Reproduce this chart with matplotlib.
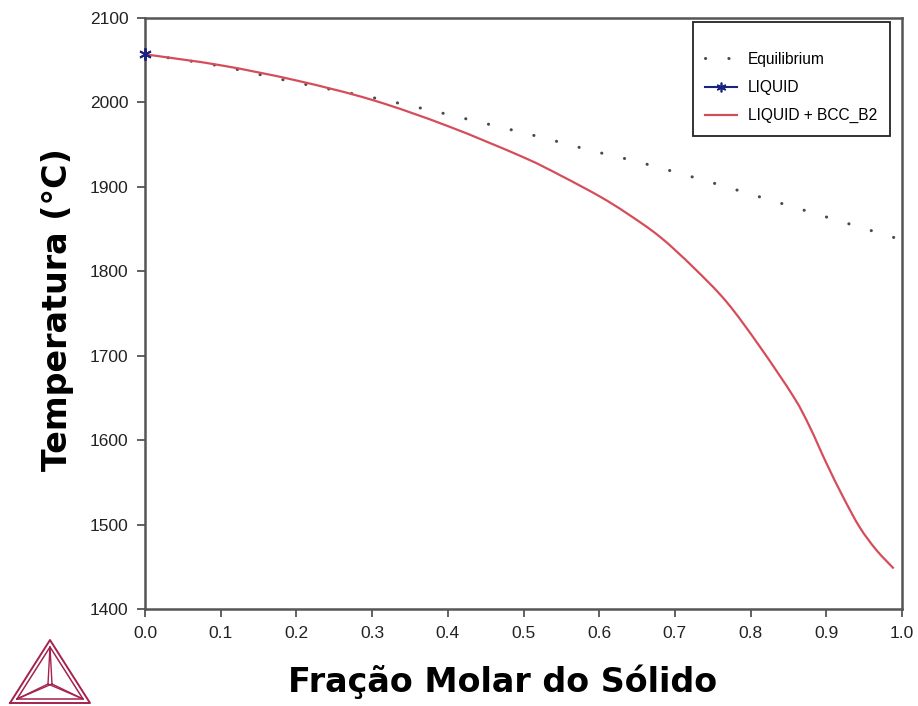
import numpy as np
import matplotlib
matplotlib.use("Agg")
import matplotlib.pyplot as plt
from matplotlib.lines import Line2D
from matplotlib.path import Path
from matplotlib.patches import PathPatch

# Solidification data (mole fraction of solid vs temperature)
eq_frac = [0.0, 0.1, 0.192, 0.341, 0.5, 0.594, 0.658, 0.768, 0.982, 0.99]
eq_temp = [2057, 2043, 2025, 1998, 1964, 1942, 1928, 1900, 1842, 1840]

liq_frac = [0.0]
liq_temp = [2057]

bcc_frac = [0.0, 0.1, 0.2, 0.3, 0.4, 0.5, 0.55, 0.6, 0.636, 0.68, 0.724,
            0.768, 0.812, 0.857, 0.878, 0.9, 0.922, 0.944, 0.966, 0.989]
bcc_temp = [2057, 2044, 2026, 2003, 1972, 1935, 1913, 1889, 1869, 1841, 1805,
            1764, 1711, 1651, 1616, 1573, 1533, 1497, 1470, 1448]

x_ticks = [0.0, 0.1, 0.2, 0.3, 0.4, 0.5, 0.6, 0.7, 0.8, 0.9, 1.0]
y_ticks = [1400, 1500, 1600, 1700, 1800, 1900, 2000, 2100]

EQ_COLOR = "#4a4a4a"
BCC_COLOR = "#d64d5a"
LIQ_COLOR = "#1a237e"
EQ_STYLE = (0, (0.05, 7.6))


def smooth_path(xs, ys):
    """Catmull-Rom spline through the points, as cubic Bezier segments."""
    pts = np.column_stack([xs, ys]).astype(float)
    verts = [pts[0]]
    codes = [Path.MOVETO]
    n = len(pts)
    for i in range(n - 1):
        p0 = pts[i - 1] if i > 0 else pts[i]
        p1, p2 = pts[i], pts[i + 1]
        p3 = pts[i + 2] if i + 2 < n else pts[i + 1]
        c1 = p1 + (p2 - p0) / 6.0
        c2 = p2 - (p3 - p1) / 6.0
        verts += [c1, c2, p2]
        codes += [Path.CURVE4] * 3
    return Path(verts, codes)


W, H = 918, 706
fig = plt.figure(figsize=(W / 100, H / 100), dpi=100)
ax = fig.add_axes([145 / W, 1 - 609 / H, (902 - 145) / W, (609 - 18) / H])

ax.add_patch(PathPatch(smooth_path(eq_frac, eq_temp), facecolor="none",
                       edgecolor=EQ_COLOR, linestyle=EQ_STYLE, linewidth=2.2,
                       capstyle="round"))
ax.add_patch(PathPatch(smooth_path(bcc_frac, bcc_temp), facecolor="none",
                       edgecolor=BCC_COLOR, linewidth=1.6))
ax.plot(liq_frac, liq_temp, color=LIQ_COLOR, marker=(6, 2, 0), markersize=9,
        markeredgewidth=1.4, linestyle="-", linewidth=1.0, clip_on=False, zorder=5)

ax.set_xlim(0, 1.0)
ax.set_ylim(1400, 2100)
ax.set_xticks(x_ticks)
ax.set_yticks(y_ticks)
ax.set_xticklabels([f"{v:.1f}" for v in x_ticks])
ax.tick_params(direction="out", length=6, width=1.3, color="#555555",
               labelsize=12.5, labelcolor="#222222", pad=6)
for s in ax.spines.values():
    s.set_color("#555555")
    s.set_linewidth(1.8)

for t in ax.get_xticklabels() + ax.get_yticklabels():
    t.set_family("Liberation Sans")

ax.set_xlabel("Fração Molar do Sólido", fontsize=24, fontweight="heavy",
              family="DejaVu Sans", color="black")
ax.xaxis.set_label_coords((503 - 145) / 757, -0.094)
ax.set_ylabel("Temperatura (°C)", fontsize=24, fontweight="heavy",
              family="DejaVu Sans", color="black")
ax.yaxis.set_label_coords(-0.094, 0.507)

handles = [
    Line2D([], [], color=EQ_COLOR, linestyle=(0, (0.05, 7.6)), linewidth=2.2,
           dash_capstyle="round"),
    Line2D([], [], color=LIQ_COLOR, marker=(6, 2, 0), markersize=7, markeredgewidth=1.2),
    Line2D([], [], color=BCC_COLOR, linewidth=1.6),
]
leg = ax.legend(handles, ["Equilibrium", "LIQUID", "LIQUID + BCC_B2"],
                loc="upper right", bbox_to_anchor=(0.984, 0.993), borderaxespad=0,
                fancybox=False, framealpha=1, edgecolor="#222222",
                prop={"family": "Liberation Sans", "size": 11.2},
                title=" ", title_fontsize=2,
                handlelength=2.0, borderpad=0.8, labelspacing=0.85, handletextpad=0.75)
leg.get_frame().set_linewidth(1.3)

# Triangle logo in the lower-left corner
lax = fig.add_axes([0, 0, 100 / W, 80 / H])
lax.set_xlim(0, 100)
lax.set_ylim(0, 80)
lax.axis("off")
c = "#a3224f"
outer = np.array([[10, 3], [50, 66], [90, 3], [10, 3]])
inner = np.array([[17, 7], [50, 59], [83, 7], [17, 7]])
center = np.array([50, 22])
lax.plot(outer[:, 0], outer[:, 1], color=c, lw=1.4)
lax.plot(inner[:, 0], inner[:, 1], color=c, lw=1.1)
for vx, vy in inner[:3]:
    lax.plot([center[0] - 2, vx], [center[1], vy], color=c, lw=1.0)
    lax.plot([center[0] + 2, vx], [center[1], vy], color=c, lw=1.0)

fig.savefig("out.png", dpi=100)
